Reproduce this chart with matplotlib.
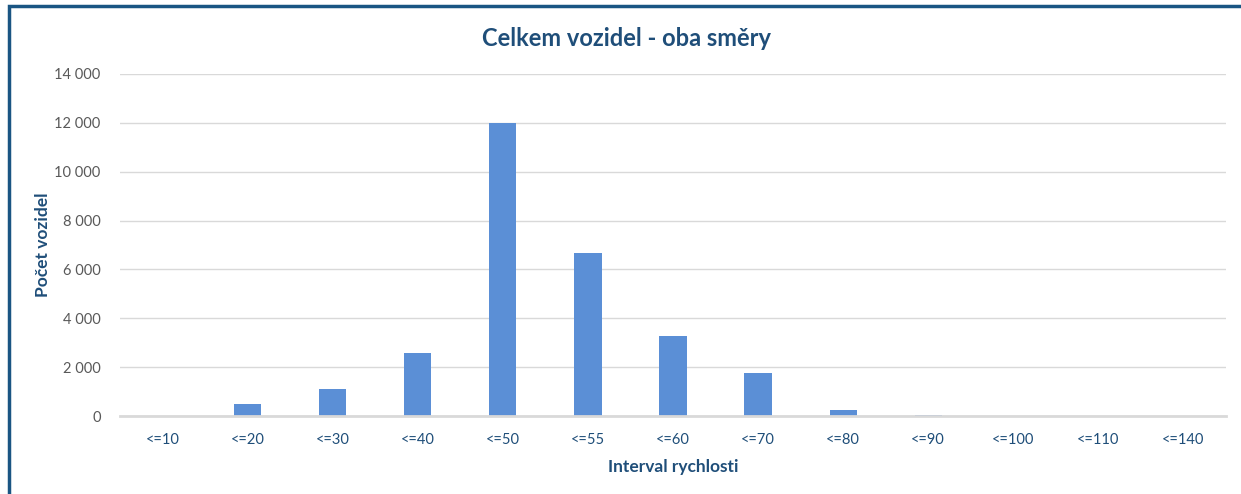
import matplotlib.pyplot as plt
from matplotlib.patches import Rectangle
from matplotlib.ticker import FuncFormatter

plt.rcParams['font.family'] = ['Lato', 'DejaVu Sans']

intervaly = ['<=10', '<=20', '<=30', '<=40', '<=50', '<=55', '<=60',
             '<=70', '<=80', '<=90', '<=100', '<=110', '<=140']
pocty = [5, 490, 1120, 2570, 12000, 6660, 3280, 1760, 265, 60, 8, 3, 2]

modra = '#5B8FD6'
tmava = '#1F4E79'
seda = '#D9D9D9'

fig = plt.figure(figsize=(12.41, 4.94), dpi=100)
ax = fig.add_axes([120 / 1241, 1 - 416 / 494, 1106 / 1241, 342 / 494])

ax.bar(range(len(intervaly)), pocty, width=0.32, color=modra, zorder=3)
ax.set_xlim(-0.5, len(intervaly) - 0.5)
ax.set_ylim(0, 14000)
ax.set_yticks(range(0, 14001, 2000))
ax.yaxis.set_major_formatter(FuncFormatter(lambda v, p: f'{int(v):,}'.replace(',', ' ')))
ax.set_xticks(range(len(intervaly)))
ax.set_xticklabels(intervaly)

ax.grid(axis='y', color=seda, linewidth=1, zorder=0)
for s in ['top', 'right', 'left']:
    ax.spines[s].set_visible(False)
ax.spines['bottom'].set_color(seda)
ax.spines['bottom'].set_linewidth(2)
ax.spines['bottom'].set_zorder(4)
ax.tick_params(axis='both', length=0)
ax.tick_params(axis='y', colors='#595959', labelsize=10.5, pad=14)
ax.tick_params(axis='x', colors=tmava, labelsize=10.5, pad=12)

ax.set_xlabel('Interval rychlosti', color=tmava, fontsize=12.5, fontweight='bold', labelpad=9)
fig.text(43 / 1241, 1 - 245 / 494, 'Počet vozidel', color=tmava, fontsize=12.5,
         fontweight='bold', rotation=90, ha='center', va='center')
fig.text(627 / 1241, 1 - 38 / 494, 'Celkem vozidel - oba směry', color=tmava,
         fontsize=17, fontweight='bold', ha='center', va='center')

fig.patches.append(Rectangle((9 / 1241, -0.1), 1.2, 1 - 6 / 494 + 0.1,
                             transform=fig.transFigure, fill=False,
                             edgecolor='#1A5583', linewidth=2.5))

fig.savefig('out.png', dpi=100)
